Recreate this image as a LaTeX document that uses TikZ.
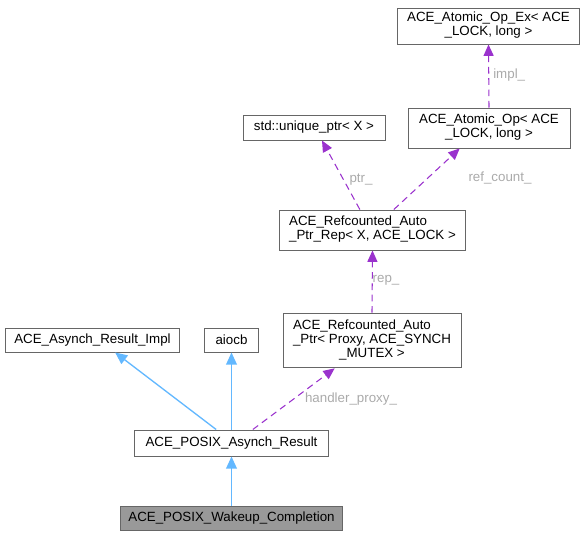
\documentclass[tikz,border=0pt]{standalone}
\usepackage{fontspec}
\setmainfont{Liberation Sans}
\usetikzlibrary{positioning,arrows.meta}
\definecolor{edgeblue}{RGB}{99,184,255}
\definecolor{edgepurple}{RGB}{154,50,205}
\definecolor{boxgray}{RGB}{102,102,102}
\definecolor{labelgray}{RGB}{170,170,170}
\definecolor{focusfill}{RGB}{153,153,153}
\tikzset{
    cls/.style={draw=boxgray, fill=white, align=center, font=\fontsize{10}{11.25}\selectfont, inner sep=0pt, line width=0.75pt},
    focus/.style={cls, fill=focusfill},
    inherit/.style={-{Triangle[length=9pt,width=8pt]}, line width=1pt, draw=edgeblue},
    usage/.style={-{Triangle[length=8.5pt,width=7.5pt]}, line width=0.8pt, draw=edgepurple, dash pattern=on 5pt off 3.5pt},
    lbl/.style={font=\fontsize{10}{12}\selectfont, text=labelgray, inner sep=0pt}
}
% first lines left, last line centred
\newcommand{\clslines}[2]{\begin{tabular}{@{}l@{}}#1\\\multicolumn{1}{@{}c@{}}{#2}\end{tabular}}

\begin{document}
\begin{tikzpicture}[x=0.75pt,y=-0.75pt]
\useasboundingbox (0,0) rectangle (586,536);
% classes
\node[cls, minimum width=137pt, minimum height=27pt] (opex) at (488.5,26) {\renewcommand{\arraystretch}{0.93}\clslines{ACE\_Atomic\_Op\_Ex< ACE}{\_LOCK, long >}};
\node[cls, minimum width=121.5pt, minimum height=30pt] (op) at (489,128) {\renewcommand{\arraystretch}{0.93}\clslines{ACE\_Atomic\_Op< ACE}{\_LOCK, long >}};
\node[cls, minimum width=106.5pt, minimum height=18.75pt] (uptr) at (314,127.5) {std::unique\_ptr< X >};
\node[cls, minimum width=140pt, minimum height=30pt] (rep) at (372.5,230) {\renewcommand{\arraystretch}{0.93}\clslines{ACE\_Refcounted\_Auto}{\_Ptr\_Rep< X, ACE\_LOCK >}};
\node[cls, minimum width=131pt, minimum height=18pt] (impl) at (92.5,340) {ACE\_Asynch\_Result\_Impl};
\node[cls, minimum width=40pt, minimum height=18pt] (aiocb) at (231.5,340) {aiocb};
\node[cls, minimum width=133.5pt, minimum height=41pt] (ptr) at (372,340.5) {\renewcommand{\arraystretch}{0.93}\clslines{ACE\_Refcounted\_Auto\\\_Ptr< Proxy, ACE\_SYNCH}{\_MUTEX >}};
\node[cls, minimum width=145pt, minimum height=19.5pt] (res) at (231.5,443) {ACE\_POSIX\_Asynch\_Result};
\node[focus, minimum width=167pt, minimum height=18pt] (wake) at (231.5,518) {ACE\_POSIX\_Wakeup\_Completion};
% members
\draw[usage] (op.north) -- (opex.south);
\node[lbl, anchor=west] (l-impl) at (493,75) {impl\_};
\draw[usage] ([xshift=16pt]rep.north) -- ([xshift=-22pt]op.south);
\node[lbl] (l-refcount) at (500,178) {ref\_count\_};
\draw[usage] ([xshift=-9.5pt]rep.north) -- ([xshift=6pt]uptr.south);
\node[lbl] (l-ptr) at (361,180) {ptr\_};
\draw[usage] (ptr.north) -- (rep.south);
\node[lbl] (l-rep) at (386,280) {rep\_};
\draw[usage] ([xshift=16pt]res.north) -- ([xshift=-28pt]ptr.south);
\node[lbl] (l-proxy) at (351,399) {handler\_proxy\_};
% bases
\draw[inherit] ([xshift=-11.5pt]res.north) -- ([xshift=17pt]impl.south);
\draw[inherit] (res.north) -- (aiocb.south);
\draw[inherit] (wake.north) -- (res.south);
\end{tikzpicture}
\end{document}
